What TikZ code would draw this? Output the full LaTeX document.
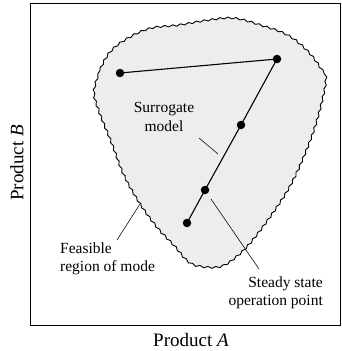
\documentclass[tikz,border=0pt]{standalone}
\usepackage{fontspec}
\setmainfont{Liberation Serif}
\usetikzlibrary{decorations.pathmorphing}
\definecolor{blobfill}{HTML}{EDEDED}
\tikzset{
  dotnode/.style={circle,fill=black,inner sep=0pt,minimum size=8.5pt},
  seg/.style={line width=1.1pt},
  leader/.style={line width=0.55pt},
  lbl/.style={font=\fontsize{15.5}{18.5}\selectfont,inner sep=0pt,align=center},
  axlbl/.style={font=\fontsize{19}{22}\selectfont,inner sep=0pt},
  blob/.style={draw,line width=0.9pt,fill=blobfill,decorate,decoration={snake,amplitude=0.9pt,segment length=8pt}}
}
\begin{document}
\begin{tikzpicture}[x=1pt,y=-1pt]
\useasboundingbox (0,0) rectangle (342,351);
\draw[line width=0.9pt] (30,3) rectangle (340.5,325.5);
\draw[blob] plot[smooth cycle,tension=0.6] coordinates {
 (93,93) (100,70) (110,53) (127,40) (150,30) (177,27) (207,22) (233,20)
 (260,27) (287,37) (307,53) (320,70) (325,80) (320,107) (310,140)
 (293,180) (277,207) (253,240) (237,257) (220,268) (200,268) (187,263)
 (173,247) (157,230) (140,207) (123,177) (110,143) (98,113)};
\node[dotnode] (p1) at (120,73) {};
\node[dotnode] (p2) at (277,59) {};
\node[dotnode] (p3) at (241,125) {};
\node[dotnode] (p4) at (205,190) {};
\node[dotnode] (p5) at (187,223) {};
\draw[seg] (p1.center) -- (p2.center) -- (p3.center) -- (p4.center) -- (p5.center);
\node[lbl] (sur) at (164,117) {Surrogate\\model};
\coordinate (s1) at (199,138);
\coordinate (s2) at (218,154);
\draw[leader] (s1) -- (s2);
\node[lbl,align=left,anchor=west] (fea) at (60,259) {Feasible\\region of mode};
\coordinate (f1) at (117,240);
\coordinate (f2) at (140,204);
\draw[leader] (f1) -- (f2);
\node[lbl,align=right,anchor=east] (ste) at (323,293) {Steady state\\operation point};
\coordinate (t1) at (211,199);
\coordinate (t2) at (259,269);
\draw[leader] (t1) -- (t2);
\node[axlbl] (xa) at (191,340) {Product \textit{A}};
\node[axlbl,rotate=90] (yb) at (17,163) {Product \textit{B}};
\end{tikzpicture}
\end{document}
